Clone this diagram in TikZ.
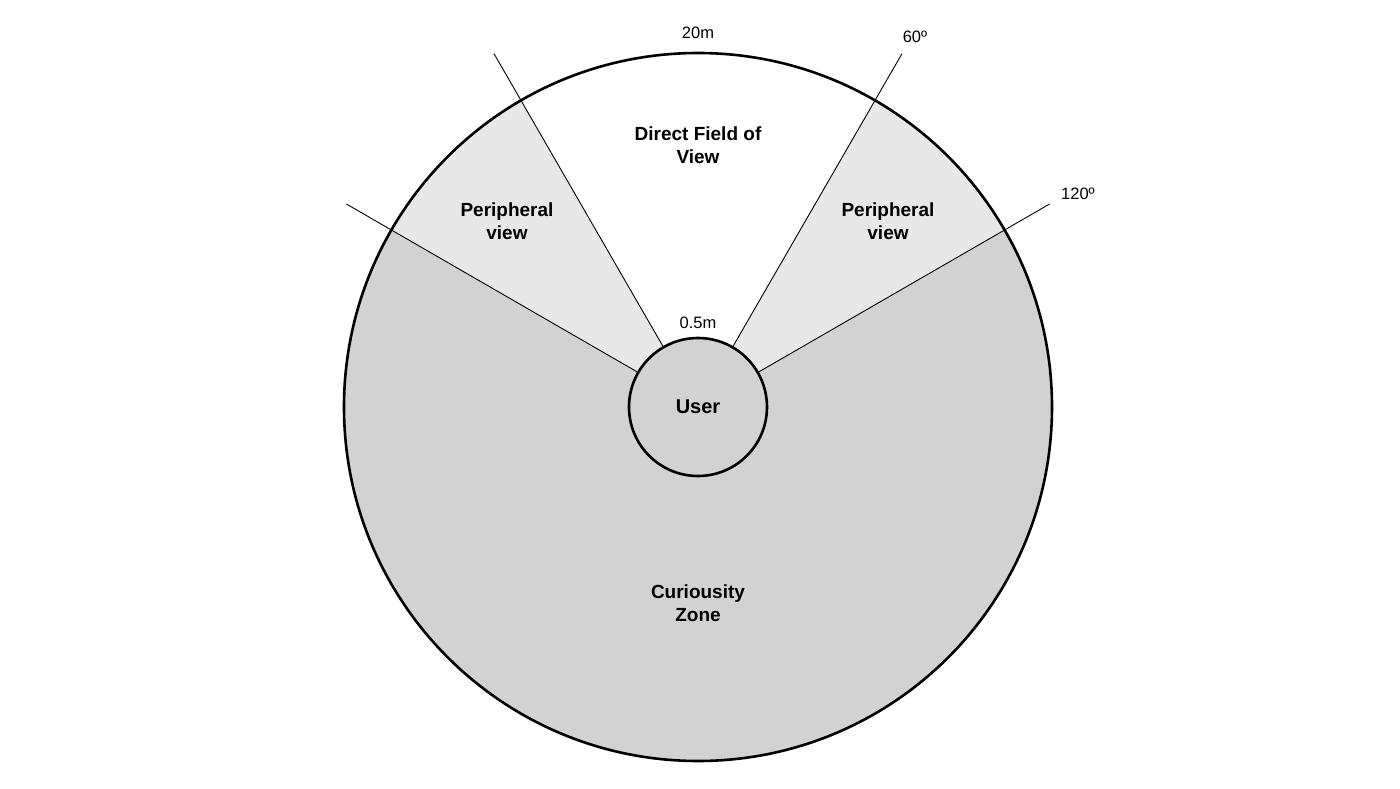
\documentclass[tikz,border=0pt]{standalone}
\usepackage{fontspec}
\setmainfont{Liberation Sans}
\definecolor{zonedark}{HTML}{D2D2D2}
\definecolor{zonelight}{HTML}{E8E8E8}
\begin{document}
\begin{tikzpicture}[x=1pt,y=1pt,
  ray/.style={draw=black,line width=0.9pt},
  ringline/.style={draw=black,line width=2.6pt},
  zonelabel/.style={font=\bfseries\fontsize{19}{23}\selectfont,align=center},
  smalllabel/.style={font=\fontsize{16.5}{19}\selectfont}]
\useasboundingbox (-698,-381) rectangle (702,407);
\def\R{354}
% zones
\fill[zonedark] (0,0) circle (\R);
\fill[zonelight] (0,0) -- (30:\R) arc (30:150:\R) -- cycle;
\fill[white] (0,0) -- (60:\R) arc (60:120:\R) -- cycle;
\draw[ringline] (0,0) circle (\R);
% user
\node[circle,minimum size=138pt,inner sep=0pt,fill=zonedark,draw=black,line width=2.6pt,
      font=\bfseries\fontsize{20}{24}\selectfont] (user) at (0,0) {User};
% ray ends
\coordinate (e60) at (60:408);
\coordinate (e120) at (120:408);
\coordinate (e30) at (30:406);
\coordinate (e150) at (150:406);
\draw[ray] (user.60) -- (e60);
\draw[ray] (user.120) -- (e120);
\draw[ray] (user.30) -- (e30);
\draw[ray] (user.150) -- (e150);
% labels
\node[zonelabel] (dfov) at (0,262) {Direct Field of\\View};
\node[zonelabel] (pl) at (-191,186) {Peripheral\\view};
\node[zonelabel] (pr) at (190,186) {Peripheral\\view};
\node[zonelabel] (cz) at (0,-196) {Curiousity\\Zone};
\node[smalllabel] (l20) at (0,374) {20m};
\node[smalllabel] (l60) at (217,370) {60º};
\node[smalllabel] (l120) at (380,213) {120º};
\node[smalllabel] (l05) at (0,84) {0.5m};
\end{tikzpicture}
\end{document}
